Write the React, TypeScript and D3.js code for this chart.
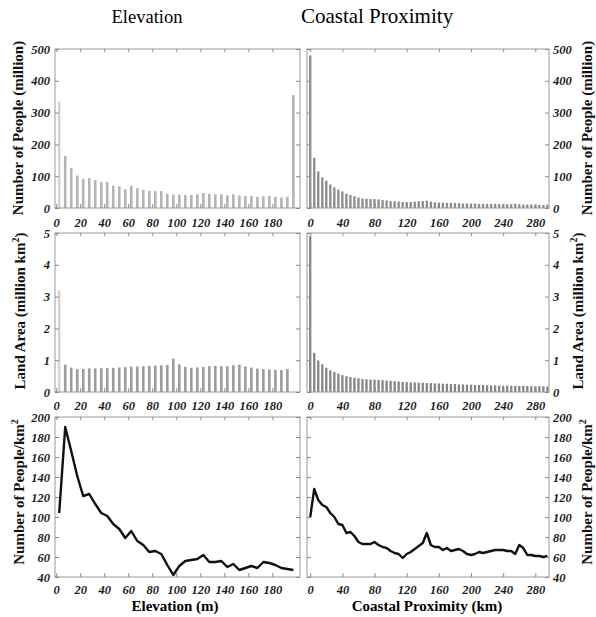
import React, { useRef, useEffect } from 'react';
import * as d3 from 'd3';

// elevation bins (5 m, bin centres), last bar is the tall one at the right edge
const elevationBins = [
  2.5, 7.5, 12.5, 17.5, 22.5, 27.5, 32.5, 37.5, 42.5, 47.5,
  52.5, 57.5, 62.5, 67.5, 72.5, 77.5, 82.5, 87.5, 92.5, 97.5,
  102.5, 107.5, 112.5, 117.5, 122.5, 127.5, 132.5, 137.5, 142.5, 147.5,
  152.5, 157.5, 162.5, 167.5, 172.5, 177.5, 182.5, 187.5, 192.5, 197.5,
];
const elevationPeople = [
  334, 164, 126, 102, 91, 94, 88, 82, 82, 70,
  68, 59, 70, 62, 57, 54, 53, 53, 45, 42,
  42, 41, 41, 43, 47, 44, 43, 43, 40, 43,
  40, 38, 38, 35, 37, 38, 35, 33, 35, 355,
];
const elevationArea = [
  3.2, 0.86, 0.77, 0.72, 0.73, 0.74, 0.74, 0.75, 0.75, 0.76,
  0.77, 0.78, 0.8, 0.8, 0.81, 0.82, 0.83, 0.84, 0.85, 1.05,
  0.87, 0.79, 0.76, 0.77, 0.79, 0.81, 0.82, 0.81, 0.81, 0.84,
  0.86, 0.8, 0.77, 0.74, 0.72, 0.71, 0.7, 0.69, 0.72,
];
const elevationDensity = [
  104, 190, 166, 141, 121, 123, 113, 104, 101, 93,
  88, 79, 86, 76, 72, 65, 66, 63, 52, 42,
  51, 56, 57, 58, 62, 55, 55, 56, 50, 53,
  47, 49, 51, 49, 55, 54, 52, 49, 48, 47,
];

// coastal proximity bins (5 km, bin starts)
const coastBins = [
  0, 5, 10, 15, 20, 25, 30, 35, 40, 45,
  50, 55, 60, 65, 70, 75, 80, 85, 90, 95,
  100, 105, 110, 115, 120, 125, 130, 135, 140, 145,
  150, 155, 160, 165, 170, 175, 180, 185, 190, 195,
  200, 205, 210, 215, 220, 225, 230, 235, 240, 245,
  250, 255, 260, 265, 270, 275, 280, 285, 290, 295,
];
const coastPeople = [
  480, 158, 115, 96, 86, 74, 65, 58, 52, 45,
  41, 37, 33, 30, 29, 28, 28, 27, 25, 24,
  22, 21, 20, 19, 19, 19, 20, 21, 22, 23,
  20, 18, 17, 17, 16, 16, 16, 15, 14, 14,
  14, 14, 13, 13, 13, 13, 13, 12, 12, 12,
  12, 13, 12, 11, 11, 11, 10, 10, 10, 10,
];
const coastArea = [
  4.9, 1.23, 0.99, 0.87, 0.76, 0.68, 0.63, 0.58, 0.53, 0.5,
  0.47, 0.45, 0.43, 0.41, 0.4, 0.39, 0.39, 0.38, 0.37, 0.36,
  0.35, 0.34, 0.33, 0.32, 0.31, 0.3, 0.3, 0.29, 0.29, 0.28,
  0.28, 0.27, 0.27, 0.26, 0.26, 0.25, 0.25, 0.24, 0.24, 0.23,
  0.23, 0.22, 0.22, 0.22, 0.21, 0.21, 0.21, 0.2, 0.2, 0.2,
  0.2, 0.19, 0.19, 0.19, 0.19, 0.18, 0.18, 0.18, 0.18, 0.17,
];
const coastDensity = [
  100, 128, 117, 112, 110, 104, 100, 93, 92, 84,
  85, 81, 75, 73, 73, 73, 75, 72, 70, 69,
  66, 64, 63, 59, 63, 65, 68, 71, 74, 84,
  72, 70, 70, 67, 69, 66, 67, 68, 66, 63,
  62, 63, 65, 64, 65, 66, 67, 67, 67, 66,
  66, 63, 72, 69, 62, 62, 61, 61, 60, 61,
];

const elevationTicks = [0, 20, 40, 60, 80, 100, 120, 140, 160, 180];
const coastTicks = [0, 40, 80, 120, 160, 200, 240, 280];
const peopleTicks = [0, 100, 200, 300, 400, 500];
const areaTicks = [0, 1, 2, 3, 4, 5];
const densityTicks = [40, 60, 80, 100, 120, 140, 160, 180, 200];

const FONT = "'Liberation Serif', 'Times New Roman', Times, serif";

const App = () => {
  const svgRef = useRef<SVGSVGElement>(null);

  useEffect(() => {
    const svg = d3.select(svgRef.current);
    svg.selectAll('*').remove();

    const rows = [
      { top: 49, bottom: 208, pad: 10 },
      { top: 233, bottom: 392, pad: 9 },
      { top: 417, bottom: 577, pad: 8 },
    ];

    const xElev = d3.scaleLinear().domain([-1, 203]).range([55, 300]);
    const xCoast = d3.scaleLinear().domain([-4, 297]).range([307, 549]);

    const yPeople = d3.scaleLinear().domain([0, 500]).range([rows[0].bottom, rows[0].top]);
    const yArea = d3.scaleLinear().domain([0, 5]).range([rows[1].bottom, rows[1].top]);
    const yDensity = d3.scaleLinear().domain([40, 200]).range([rows[2].bottom, rows[2].top]);

    const styleAxis = (g: any) => {
      g.select('.domain').remove();
      g.selectAll('line').attr('stroke', '#8a8a8a');
      g.selectAll('text')
        .attr('font-family', FONT)
        .attr('font-weight', 'bold')
        .attr('font-style', 'italic')
        .attr('font-size', 12.5)
        .attr('fill', '#1c1c1c');
    };

    const panels = [
      { x: xElev, y: yPeople, ticks: peopleTicks, xt: elevationTicks, row: rows[0], left: true, bins: elevationBins, values: elevationPeople, kind: 'bar', fill: '#b4b4b4' },
      { x: xCoast, y: yPeople, ticks: peopleTicks, xt: coastTicks, row: rows[0], left: false, bins: coastBins, values: coastPeople, kind: 'bar', fill: '#8c8c8c' },
      { x: xElev, y: yArea, ticks: areaTicks, xt: elevationTicks, row: rows[1], left: true, bins: elevationBins, values: elevationArea, kind: 'bar', fill: '#9c9c9c' },
      { x: xCoast, y: yArea, ticks: areaTicks, xt: coastTicks, row: rows[1], left: false, bins: coastBins, values: coastArea, kind: 'bar', fill: '#858585' },
      { x: xElev, y: yDensity, ticks: densityTicks, xt: elevationTicks, row: rows[2], left: true, bins: elevationBins, values: elevationDensity, kind: 'line', fill: '' },
      { x: xCoast, y: yDensity, ticks: densityTicks, xt: coastTicks, row: rows[2], left: false, bins: coastBins, values: coastDensity, kind: 'line', fill: '' },
    ];

    panels.forEach((p) => {
      const [x0, x1] = p.x.range();
      const g = svg.append('g');

      if (p.kind === 'bar') {
        const bw = p.left ? 2.6 : 2.3;
        g.selectAll('rect')
          .data(p.values)
          .join('rect')
          .attr('x', (d, i) => p.x(p.bins[i]) - bw / 2)
          .attr('y', (d) => p.y(d))
          .attr('width', bw)
          .attr('height', (d) => p.row.bottom - p.y(d))
          .attr('fill', (d, i) => (i === 0 && p.left ? '#d4d4d4' : p.fill));
      } else {
        const line = d3.line<number>()
          .x((d, i) => p.x(p.bins[i]))
          .y((d) => p.y(d));
        g.append('path')
          .datum(p.values)
          .attr('fill', 'none')
          .attr('stroke', '#111')
          .attr('stroke-width', 2.4)
          .attr('stroke-linejoin', 'round')
          .attr('d', line);
      }

      // frame
      g.append('rect')
        .attr('x', x0)
        .attr('y', p.row.top)
        .attr('width', x1 - x0)
        .attr('height', p.row.bottom - p.row.top)
        .attr('fill', 'none')
        .attr('stroke', '#9a9a9a')
        .attr('stroke-width', 1);

      // y axis with labels on the outer side, bare ticks on the inner side
      const outer = p.left ? d3.axisLeft(p.y) : d3.axisRight(p.y);
      g.append('g')
        .attr('transform', `translate(${p.left ? x0 : x1},0)`)
        .call(outer.tickValues(p.ticks).tickFormat(d3.format('d')).tickSizeInner(-4).tickSizeOuter(0).tickPadding(p.left ? 5 : 4))
        .call(styleAxis);
      const inner = p.left ? d3.axisRight(p.y) : d3.axisLeft(p.y);
      g.append('g')
        .attr('transform', `translate(${p.left ? x1 : x0},0)`)
        .call(inner.tickValues(p.ticks).tickSizeInner(-4).tickSizeOuter(0).tickFormat(() => ''))
        .call(styleAxis);

      // x axis
      g.append('g')
        .attr('transform', `translate(0,${p.row.bottom})`)
        .call(d3.axisBottom(p.x).tickValues(p.xt).tickFormat(d3.format('d')).tickSizeInner(-4).tickSizeOuter(0).tickPadding(p.row.pad))
        .call(styleAxis);
      g.append('g')
        .attr('transform', `translate(0,${p.row.top})`)
        .call(d3.axisTop(p.x).tickValues(p.xt).tickSizeInner(-3).tickSizeOuter(0).tickFormat(() => ''))
        .call(styleAxis);
    });

    // column titles
    svg.append('text')
      .attr('x', 147).attr('y', 23)
      .attr('text-anchor', 'middle')
      .attr('font-family', FONT)
      .attr('font-size', 18.5)
      .text('Elevation');
    svg.append('text')
      .attr('x', 377).attr('y', 23)
      .attr('text-anchor', 'middle')
      .attr('font-family', FONT)
      .attr('font-size', 21)
      .text('Coastal Proximity');

    // x axis titles
    svg.append('text')
      .attr('x', 175).attr('y', 611)
      .attr('text-anchor', 'middle')
      .attr('font-family', FONT)
      .attr('font-weight', 'bold')
      .attr('font-size', 15)
      .text('Elevation (m)');
    svg.append('text')
      .attr('x', 427).attr('y', 611)
      .attr('text-anchor', 'middle')
      .attr('font-family', FONT)
      .attr('font-weight', 'bold')
      .attr('font-size', 15)
      .text('Coastal Proximity (km)');

    // rotated y titles, with superscript parts
    const yTitles = [
      { parts: [['Number of People (million)', false]], cy: 128, lx: 23, rx: 592 },
      { parts: [['Land Area (million km', false], ['2', true], [')', false]], cy: 311, lx: 25, rx: 583 },
      { parts: [['Number of People/km', false], ['2', true]], cy: 492, lx: 24, rx: 592 },
    ];
    yTitles.forEach((t) => {
      [t.lx, t.rx].forEach((bx) => {
        const txt = svg.append('text')
          .attr('transform', `translate(${bx},${t.cy}) rotate(-90)`)
          .attr('text-anchor', 'middle')
          .attr('font-family', FONT)
          .attr('font-weight', 'bold')
          .attr('font-size', 15)
          .attr('fill', '#111');
        let shifted = false;
        t.parts.forEach(([s, sup]) => {
          const ts = txt.append('tspan').text(s as string);
          if (sup) {
            ts.attr('font-size', 10).attr('dy', -6);
            shifted = true;
          } else if (shifted) {
            ts.attr('dy', 6);
            shifted = false;
          }
        });
      });
    });
  }, []);

  return (
    <svg
      ref={svgRef}
      width={596}
      height={617}
      style={{ position: 'absolute', left: 0, top: 0, background: '#fff' }}
    ></svg>
  );
};

export default App;
